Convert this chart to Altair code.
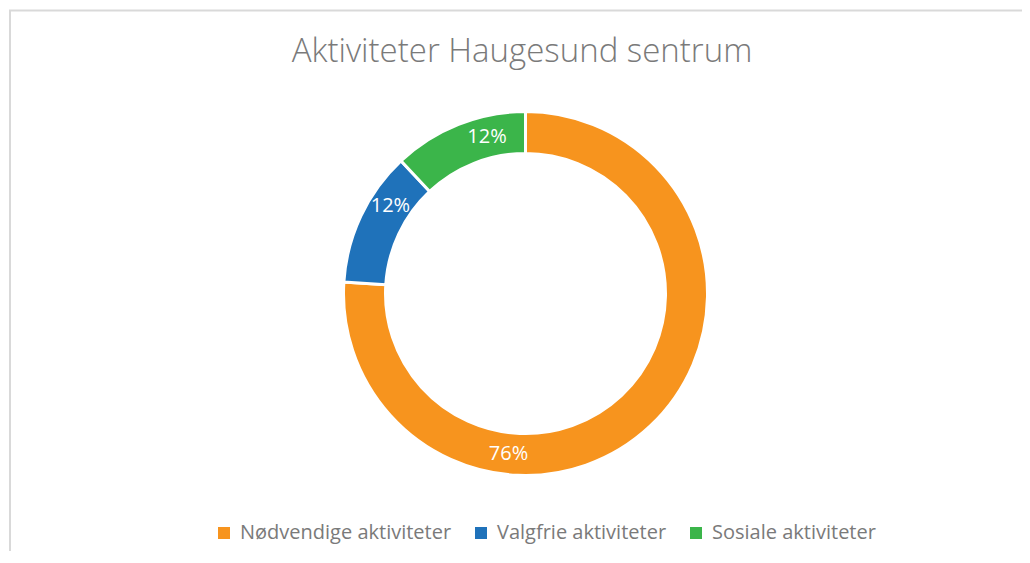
import altair as alt
import pandas as pd

title_text = "Aktiviteter Haugesund sentrum"
categories = ["Nødvendige aktiviteter", "Valgfrie aktiviteter", "Sosiale aktiviteter"]
shares = [76, 12, 12]
colors = ["#F7941E", "#1F72BA", "#3BB54A"]

df = pd.DataFrame({
    "kategori": categories,
    "andel": shares,
    "rekkefolge": list(range(len(categories))),
})
total = sum(shares)

W, H = 1014, 543
CX, CY = 517.5, 285.5
R_OUT, R_IN = 182, 140
GRAY = "#7a7a7a"
FONT = "Open Sans"

base = alt.Chart(df)

color = alt.Color(
    "kategori:N",
    scale=alt.Scale(domain=categories, range=colors),
    sort=categories,
    legend=alt.Legend(
        title=None, orient="none", legendX=206, legendY=515, direction="horizontal",
        symbolType="square", symbolSize=144, symbolStrokeWidth=0,
        labelFont=FONT, labelFontSize=20, labelColor=GRAY, labelOffset=6,
        labelLimit=500, columnPadding=19,
    ),
)

arcs = base.mark_arc(outerRadius=R_OUT, innerRadius=R_IN, stroke="white", strokeWidth=3).encode(
    theta=alt.Theta("andel:Q", stack=True),
    color=color,
    order=alt.Order("rekkefolge:Q"),
    x=alt.value(CX),
    y=alt.value(CY),
)

labels = base.transform_window(
    cum="sum(andel)", sort=[alt.SortField("rekkefolge")], frame=[None, 0]
).transform_joinaggregate(
    tot="sum(andel)"
).transform_calculate(
    pos="datum.cum - datum.andel + 0.68 * datum.andel",
    lbl="format(datum.andel / datum.tot, '.0%')",
).mark_text(
    radius=161, color="white", fontSize=20, font=FONT, align="center", baseline="middle"
).encode(
    theta=alt.Theta("pos:Q", scale=alt.Scale(domain=[0, total]), stack=False),
    text="lbl:N",
    x=alt.value(CX),
    y=alt.value(CY),
)

title_df = pd.DataFrame({"t": [title_text]})
title_mark = alt.Chart(title_df).mark_text(
    font=FONT, fontSize=33, fontWeight=300, color=GRAY, align="center", baseline="alphabetic"
).encode(text="t:N", x=alt.value(514), y=alt.value(54))

frame_df = pd.DataFrame({"k": [0]})
frame_top = alt.Chart(frame_df).mark_rule(color="#d9d9d9", strokeWidth=2).encode(
    x=alt.value(1), x2=alt.value(W), y=alt.value(2.5)
)
frame_left = alt.Chart(frame_df).mark_rule(color="#d9d9d9", strokeWidth=2).encode(
    x=alt.value(2), y=alt.value(2), y2=alt.value(H)
)

chart = alt.layer(frame_top, frame_left, title_mark, arcs, labels).resolve_scale(
    theta="independent"
).properties(
    width=W, height=H, padding=0, autosize=alt.AutoSizeParams(type="none")
).configure_view(strokeWidth=0)

chart.save("out.html", embed_options={"renderer": "svg", "actions": False})
